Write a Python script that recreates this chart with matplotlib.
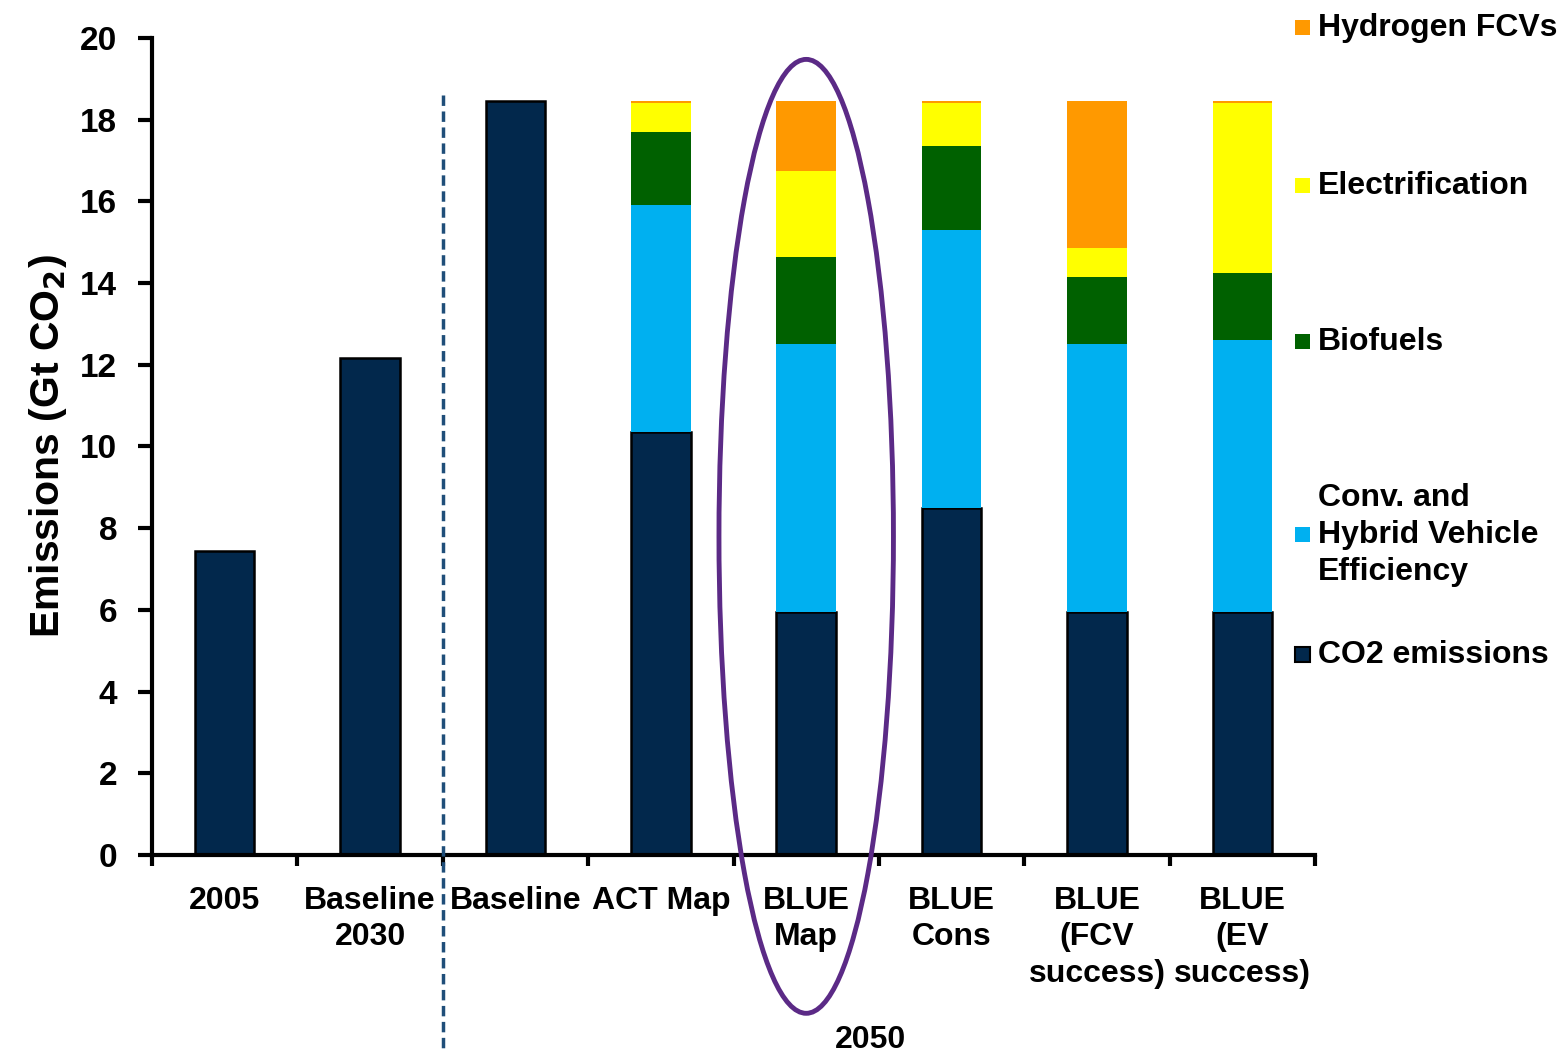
import numpy as np
import matplotlib.pyplot as plt
from matplotlib.patches import Ellipse, Rectangle

plt.rcParams['font.family'] = ['Liberation Sans', 'DejaVu Sans']
plt.rcParams['font.weight'] = 'bold'
plt.rcParams['axes.labelweight'] = 'bold'

categories = ['2005', 'Baseline\n2030', 'Baseline', 'ACT Map', 'BLUE\nMap',
              'BLUE\nCons', 'BLUE\n(FCV\nsuccess)', 'BLUE\n(EV\nsuccess)']

# Gt CO2, stacked from the bottom up
co2_emissions = [7.44, 12.17, 18.45, 10.35, 5.95, 8.5, 5.95, 5.95]
efficiency = [0, 0, 0, 5.55, 6.55, 6.8, 6.55, 6.65]
biofuels = [0, 0, 0, 1.8, 2.15, 2.05, 1.65, 1.65]
electrification = [0, 0, 0, 0.7, 2.1, 1.05, 0.7, 4.15]
hydrogen = [0, 0, 0, 0.05, 1.7, 0.05, 3.6, 0.05]

series = [co2_emissions, efficiency, biofuels, electrification, hydrogen]
series_labels = ['CO2 emissions', 'Conv. and\nHybrid Vehicle\nEfficiency',
                 'Biofuels', 'Electrification', 'Hydrogen FCVs']
colors = ['#02284C', '#00B0F0', '#006100', '#FFFF00', '#FF9900']

fs = 23

fig = plt.figure(figsize=(15.6, 10.54), dpi=100)
ax = fig.add_axes([0.0974, 0.1888, 0.7456, 0.7752])

x = np.arange(len(categories))
bottom = np.zeros(len(categories))
for i, (vals, col) in enumerate(zip(series, colors)):
    vals = np.array(vals, dtype=float)
    if i == 0:
        ax.bar(x, vals, 0.41, bottom=bottom, color=col, edgecolor='black',
               linewidth=1.8, zorder=2)
    else:
        ax.bar(x, vals, 0.41, bottom=bottom, color=col, linewidth=0, zorder=2)
    bottom += vals

ax.set_xlim(-0.5, len(categories) - 0.5)
ax.set_ylim(0, 20)
ax.set_yticks(np.arange(0, 21, 2))
ax.tick_params(axis='y', labelsize=24, length=10, width=3, pad=15)
ax.set_xticks(x)
ax.set_xticklabels(categories, fontsize=fs, linespacing=1.3)
ax.tick_params(axis='x', length=0, pad=22)
ax.set_xticks(np.arange(-0.5, len(categories)), minor=True)
ax.tick_params(axis='x', which='minor', length=8, width=3)

for side in ['top', 'right']:
    ax.spines[side].set_visible(False)
for side in ['left', 'bottom']:
    ax.spines[side].set_linewidth(3)

ax.set_ylabel('Emissions (Gt CO$_\\mathbf{2}$)', fontsize=29.5, labelpad=8)

# divider between 2030 and 2050 scenarios
ax.plot([1.5, 1.5], [18.6, -4.75], color='#1F4E79', lw=2.5,
        linestyle=(0, (3, 1.6)), clip_on=False, zorder=3)

# highlight around BLUE Map
ax.add_patch(Ellipse((4.0, 7.8), 1.2, 23.35, fill=False, edgecolor='#5B2A86',
                     linewidth=3.5, clip_on=False, zorder=4))
fig.text(0.558, 0.013, '2050', fontsize=fs, ha='center', va='center')

# legend drawn as squares with labels on the right
legend_y = [1054 - 655, 1054 - 535, 1054 - 342, 1054 - 186, 1054 - 28]
for lab, col, yp in zip(series_labels, colors, legend_y):
    yf = yp / 1054
    ec = 'black' if col == colors[0] else 'none'
    fig.patches.append(Rectangle((1295 / 1560, yf - 7 / 1054), 15 / 1560, 15 / 1054,
                                 transform=fig.transFigure, facecolor=col,
                                 edgecolor=ec, linewidth=1.5))
    fig.text(1318 / 1560, yf, lab, fontsize=fs, ha='left', va='center',
             linespacing=1.3)

fig.savefig('out.png', dpi=100)
